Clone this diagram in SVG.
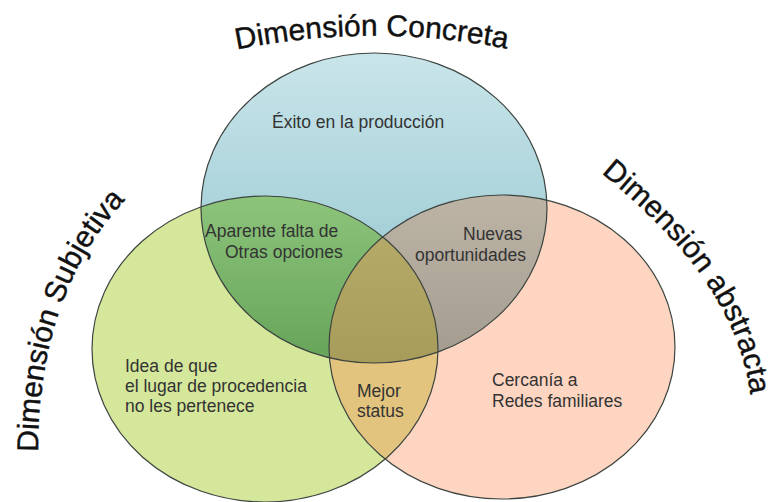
<svg xmlns="http://www.w3.org/2000/svg" width="771" height="502" viewBox="0 0 771 502">
  <style>
    .lbl { font-family: "Liberation Sans", Arial, sans-serif; font-size: 17.5px; fill: #333333; }
    .title { font-family: "Liberation Sans", Arial, sans-serif; font-size: 30px; fill: #111111; stroke: #111111; stroke-width: 0.4; }
    .outline { fill: none; stroke: #3c4440; stroke-width: 1.2; }
  </style>
  <defs>
    <linearGradient id="gBlue" gradientUnits="userSpaceOnUse" x1="0" y1="53" x2="0" y2="363">
      <stop offset="0" stop-color="#c9e5ea"/>
      <stop offset="1" stop-color="#8dc2cb"/>
    </linearGradient>
    <linearGradient id="gBG" gradientUnits="userSpaceOnUse" x1="0" y1="196" x2="0" y2="363">
      <stop offset="0" stop-color="#8cc47a"/>
      <stop offset="1" stop-color="#66a45a"/>
    </linearGradient>
    <linearGradient id="gBP" gradientUnits="userSpaceOnUse" x1="0" y1="195" x2="0" y2="363">
      <stop offset="0" stop-color="#bdb4a6"/>
      <stop offset="1" stop-color="#a39c8e"/>
    </linearGradient>
    <linearGradient id="gBGP" gradientUnits="userSpaceOnUse" x1="0" y1="233" x2="0" y2="363">
      <stop offset="0" stop-color="#b6aa68"/>
      <stop offset="1" stop-color="#a89c5b"/>
    </linearGradient>
    <clipPath id="cBlue"><ellipse cx="374" cy="208" rx="173" ry="155"/></clipPath>
    <clipPath id="cGreen"><ellipse cx="265" cy="349" rx="173" ry="153"/></clipPath>
    <clipPath id="cPink"><ellipse cx="502" cy="347" rx="173" ry="152"/></clipPath>
    <path id="arcTop" d="M 230 51 A 690 690 0 0 1 518 51"/>
    <path id="arcLeft" d="M 38 452 C 38 340, 72 238, 156 172"/>
    <path id="arcRight" d="M 600 172 C 660 222, 746 300, 752 412"/>
  </defs>

  <rect x="0" y="0" width="771" height="502" fill="#ffffff"/>

  <g id="set-subjetiva">
    <ellipse cx="265" cy="349" rx="173" ry="153" fill="#d5e79b"/>
  </g>
  <g id="set-abstracta">
    <ellipse cx="502" cy="347" rx="173" ry="152" fill="#fdd5c1"/>
  </g>
  <g id="overlap-subjetiva-abstracta" clip-path="url(#cGreen)">
    <ellipse cx="502" cy="347" rx="173" ry="152" fill="#e3c47e"/>
  </g>
  <g id="set-concreta">
    <ellipse cx="374" cy="208" rx="173" ry="155" fill="url(#gBlue)"/>
  </g>
  <g id="overlap-concreta-subjetiva" clip-path="url(#cBlue)">
    <ellipse cx="265" cy="349" rx="173" ry="153" fill="url(#gBG)"/>
  </g>
  <g id="overlap-concreta-abstracta" clip-path="url(#cBlue)">
    <ellipse cx="502" cy="347" rx="173" ry="152" fill="url(#gBP)"/>
  </g>
  <g id="overlap-all" clip-path="url(#cGreen)">
    <g clip-path="url(#cBlue)">
      <ellipse cx="502" cy="347" rx="173" ry="152" fill="url(#gBGP)"/>
    </g>
  </g>

  <g id="outlines">
    <ellipse class="outline" cx="265" cy="349" rx="173" ry="153"/>
    <ellipse class="outline" cx="502" cy="347" rx="173" ry="152"/>
    <ellipse class="outline" cx="374" cy="208" rx="173" ry="155"/>
  </g>

  <g id="titles">
    <text class="title"><textPath href="#arcTop" startOffset="7">Dimensión Concreta</textPath></text>
    <text class="title"><textPath href="#arcLeft" startOffset="0">Dimensión Subjetiva</textPath></text>
    <text class="title"><textPath href="#arcRight" startOffset="2">Dimensión abstracta</textPath></text>
  </g>

  <g id="label-concreta">
    <text class="lbl" x="272" y="128">Éxito en la producción</text>
  </g>
  <g id="label-concreta-subjetiva">
    <text class="lbl" x="205" y="237">Aparente falta de</text>
    <text class="lbl" x="225" y="258">Otras opciones</text>
  </g>
  <g id="label-concreta-abstracta">
    <text class="lbl" x="463" y="240">Nuevas</text>
    <text class="lbl" x="415" y="261">oportunidades</text>
  </g>
  <g id="label-subjetiva">
    <text class="lbl" x="125" y="372">Idea de que</text>
    <text class="lbl" x="125" y="392">el lugar de procedencia</text>
    <text class="lbl" x="125" y="412">no les pertenece</text>
  </g>
  <g id="label-subjetiva-abstracta">
    <text class="lbl" x="357" y="397">Mejor</text>
    <text class="lbl" x="357" y="417">status</text>
  </g>
  <g id="label-abstracta">
    <text class="lbl" x="492" y="386">Cercanía a</text>
    <text class="lbl" x="492" y="407">Redes familiares</text>
  </g>
</svg>
